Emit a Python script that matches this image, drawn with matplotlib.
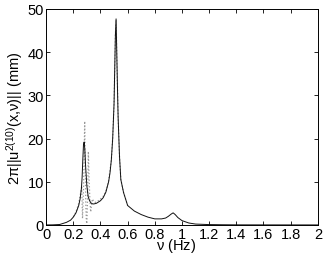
import numpy as np
import matplotlib
matplotlib.use("Agg")
import matplotlib.pyplot as plt

plt.rcParams['font.family'] = ['Liberation Sans', 'DejaVu Sans']
plt.rcParams['mathtext.fontset'] = 'custom'
plt.rcParams['mathtext.rm'] = 'Liberation Sans'
plt.rcParams['mathtext.it'] = 'Liberation Sans'

# solid curve
nu = [0, 0.05, 0.1, 0.15, 0.18, 0.2, 0.22, 0.24, 0.25, 0.26, 0.265, 0.27, 0.275,
      0.28, 0.285, 0.29, 0.3, 0.31, 0.32, 0.33, 0.34, 0.35, 0.37, 0.4, 0.42, 0.44,
      0.46, 0.47, 0.48, 0.49, 0.5, 0.505, 0.51, 0.515, 0.52, 0.525, 0.53, 0.54,
      0.55, 0.57, 0.6, 0.65, 0.7, 0.75, 0.8, 0.85, 0.88, 0.9, 0.92, 0.935, 0.95,
      0.97, 1.0, 1.05, 1.1, 1.2, 1.3, 1.4, 1.6, 1.8, 2.0]
amp = [0, 0.02, 0.1, 0.6, 1.1, 1.8, 2.8, 4.5, 6.0, 8.5, 11, 15, 18.5,
       19.2, 17.5, 14, 9, 6.5, 5.6, 5.1, 4.9, 4.85, 5.0, 5.6, 6.3, 7.6,
       10, 12, 15, 20, 28, 36, 44, 47.7, 40, 32, 25, 16,
       10.5, 7.5, 4.5, 3.2, 2.4, 1.8, 1.4, 1.4, 1.6, 2.0, 2.5, 2.8, 2.4,
       1.7, 1.0, 0.45, 0.2, 0.08, 0.04, 0.02, 0.01, 0.005, 0]

# dotted curve
nu_d = [0.2, 0.22, 0.24, 0.255, 0.262, 0.268, 0.275, 0.28, 0.284, 0.288, 0.292,
        0.296, 0.3, 0.305, 0.311, 0.316, 0.322, 0.328, 0.334, 0.34, 0.35, 0.36,
        0.38, 0.4, 0.42, 0.44, 0.46, 0.48, 0.49, 0.5, 0.51, 0.515, 0.52, 0.53,
        0.54, 0.55, 0.57, 0.6]
amp_d = [1.9, 3.0, 5.0, 7.5, 9.0, 1.5, 8, 16, 24, 14, 5,
         1.0, 0.3, 6, 17, 11, 6, 3.0, 4.5, 6.0, 5.5, 5.2,
         5.5, 6.0, 6.6, 7.8, 10.2, 15, 20, 28, 44, 47.5, 40, 25,
         16, 10.5, 7.5, 4.5]

fig = plt.figure(figsize=(3.27, 2.55), dpi=100)
ax = fig.add_axes([0.141, 0.114, 0.831, 0.847])

ax.plot(nu_d, amp_d, ':', color='#999999', lw=0.9)
ax.plot(nu, amp, '-', color='#111111', lw=0.7)

ax.set_xlim(0, 2)
ax.set_ylim(0, 50)
ax.set_xticks(np.arange(0, 2.01, 0.2))
ax.set_xticklabels(['0', '0.2', '0.4', '0.6', '0.8', '1', '1.2', '1.4', '1.6', '1.8', '2'])
ax.set_yticks([0, 10, 20, 30, 40, 50])
ax.tick_params(direction='in', top=True, right=True, length=3, width=0.6,
               labelsize=10.5, pad=1.5)
for s in ax.spines.values():
    s.set_linewidth(0.7)

ax.set_xlabel(r'$\nu$ (Hz)', fontsize=10.5)
ax.xaxis.set_label_coords(0.478, -0.05)
ax.set_ylabel(r'2$\pi$||u$^{2(10)}$(x,$\nu$)|| (mm)', fontsize=10.5, labelpad=2)

fig.savefig('out.png', dpi=100)
